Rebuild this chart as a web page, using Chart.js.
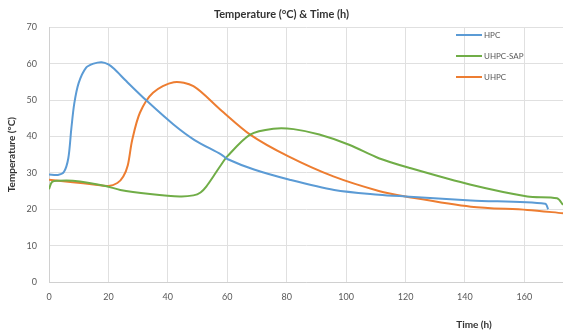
<!DOCTYPE html>
<html>
<head>
<meta charset="utf-8">
<script src="https://cdn.jsdelivr.net/npm/chart.js@4"></script>
<style>
  html, body { margin: 0; padding: 0; background: #fff; }
  #wrap { width: 563px; height: 335px; }
</style>
</head>
<body>
<div id="wrap"><canvas id="c"></canvas></div>
<script>
// values
const hpcTime = [0, 3, 5, 6.5, 7.5, 8.5, 10, 12.5, 15, 17.7, 20, 22, 26, 33, 42, 49, 58, 60, 69, 81, 96, 111, 120, 142, 167, 168];
const hpcTemp = [29.5, 29.4, 30.2, 34, 42, 49, 54.7, 58.9, 60, 60.4, 59.8, 58.5, 55.2, 49.7, 43.2, 39, 35, 33.8, 30.9, 28.1, 25.3, 24, 23.5, 22.4, 21.5, 20];

const sapTime = [0, 1, 3, 8, 19, 24, 34, 44, 48.6, 51, 53, 55.3, 57.6, 60, 67.7, 75.5, 82.3, 91, 101, 111, 121.5, 142, 161, 171, 173];
const sapTemp = [25.5, 27.5, 27.8, 27.8, 26.4, 25.3, 24.2, 23.5, 23.8, 24.6, 26.3, 29, 31.8, 34.5, 40.5, 42.1, 42, 40.5, 37.7, 34, 31.3, 26.7, 23.5, 23, 21.2];

const uhpcTime = [0, 8, 15, 20, 23, 25, 26.5, 28, 30.6, 35, 42, 48.6, 57.6, 67.7, 80.6, 95.7, 111, 120, 142, 161, 173];
const uhpcTemp = [28.1, 27.4, 26.8, 26.4, 27.2, 29, 32, 39, 46.5, 52, 54.9, 53.8, 47.4, 40.5, 34.5, 29, 25, 23.5, 20.7, 19.8, 18.9];

const seriesNames = ['HPC', 'UHPC-SAP', 'UHPC'];
const seriesColours = ['#5B9BD5', '#70AD47', '#ED7D31'];

const xTicks = [0, 20, 40, 60, 80, 100, 120, 140, 160];

function points(xs, ys) {
    return xs.map((x, i) => ({x: x, y: ys[i]}));
}

const FONT = 'Lato, "Open Sans", sans-serif';
const GREY = '#595959';

// legend inside the plot area and the x axis title, drawn like the original
const extras = {
    id: 'extras',
    afterDraw(chart) {
        const ctx = chart.ctx;
        ctx.save();
        ctx.font = '8px ' + FONT;
        ctx.textBaseline = 'middle';
        chart.data.datasets.forEach((ds, i) => {
            const y = 35 + i * 21;
            ctx.strokeStyle = ds.borderColor;
            ctx.lineWidth = 2;
            ctx.beginPath();
            ctx.moveTo(456, y);
            ctx.lineTo(482, y);
            ctx.stroke();
            ctx.fillStyle = GREY;
            ctx.fillText(ds.label, 484, y);
        });
        ctx.fillStyle = '#333';
        ctx.font = 'bold 10px ' + FONT;
        ctx.textAlign = 'center';
        ctx.fillText('Time (h)', 474, 325);
        ctx.restore();
    }
};

const datasets = [
    points(hpcTime, hpcTemp),
    points(sapTime, sapTemp),
    points(uhpcTime, uhpcTemp)
].map((d, i) => ({
    label: seriesNames[i],
    data: d,
    borderColor: seriesColours[i],
    backgroundColor: seriesColours[i],
    borderWidth: 2,
    pointRadius: 0,
    tension: 0.3
}));

new Chart(document.getElementById('c'), {
    type: 'line',
    data: {datasets: datasets},
    options: {
        responsive: true,
        maintainAspectRatio: false,
        animation: false,
        layout: {padding: 0},
        plugins: {
            legend: {display: false},
            tooltip: {enabled: false},
            title: {
                display: true,
                text: 'Temperature (°C) & Time (h)',
                color: '#333',
                font: {family: FONT, size: 11, weight: 'bold'},
                padding: {top: 8, bottom: 6}
            }
        },
        scales: {
            x: {
                type: 'linear',
                min: 0,
                max: 173,
                afterBuildTicks: axis => {
                    axis.ticks = xTicks.map(v => ({value: v}));
                },
                afterFit: axis => { axis.height = 53; },
                grid: {color: '#E0E0E0', drawTicks: false},
                border: {color: '#D0D0D0'},
                ticks: {
                    color: GREY,
                    font: {family: FONT, size: 9},
                    padding: 10,
                    maxRotation: 0
                }
            },
            y: {
                min: 0,
                max: 70,
                afterFit: axis => { axis.width = 49; },
                grid: {color: '#E0E0E0', drawTicks: false},
                border: {color: '#D0D0D0'},
                ticks: {
                    stepSize: 10,
                    color: GREY,
                    font: {family: FONT, size: 9},
                    padding: 12
                },
                title: {
                    display: true,
                    text: 'Temperature (°C)',
                    color: '#333',
                    font: {family: FONT, size: 10, weight: 'bold'},
                    padding: {top: 6, bottom: 0}
                }
            }
        }
    },
    plugins: [extras]
});
</script>
</body>
</html>
